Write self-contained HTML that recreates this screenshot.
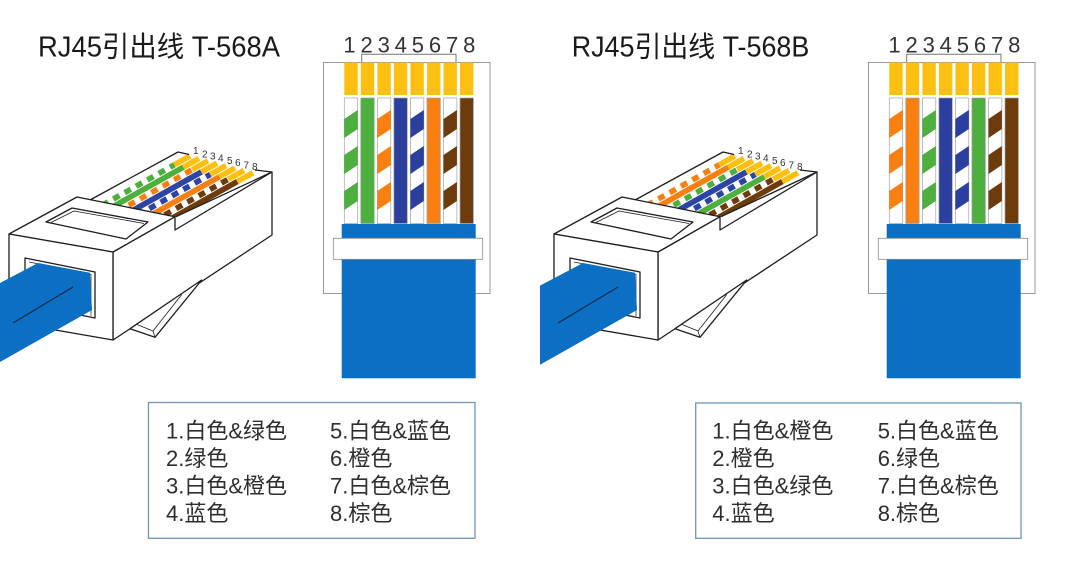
<!DOCTYPE html>
<html><head><meta charset="utf-8"><style>
html,body{margin:0;padding:0;background:#fff;overflow:hidden;}
svg{display:block;}
text{font-family:"Liberation Sans","Noto Sans CJK SC",sans-serif;}
</style></head><body>
<svg width="1080" height="572" viewBox="0 0 1080 572" xmlns="http://www.w3.org/2000/svg">
<defs>
<clipPath id="wc"><polygon points="90,200 178,152 190,153 262,168 272,172 176,216.7"/></clipPath>
<g id="st">
<polygon points="0,119 13.4,110 13.4,129 0,138"/>
<polygon points="0,155 13.4,146 13.4,165 0,174"/>
<polygon points="0,191 13.4,182 13.4,201 0,210"/>
</g>
<g id="under"><polygon points="9,234 77,197 90,200 178,152 190,155 255,170 272,172 272,235 113,340 9,322" fill="#fff"/></g>
<g id="over" stroke="#1e1e1e" stroke-width="1.3" stroke-linejoin="round">
<polyline points="90,200 178,152 189,154.5" fill="none"/>
<polyline points="255,170 272,172" fill="none"/>
<line x1="176" y1="216.7" x2="272" y2="172"/>
<polygon points="113,252 175,216.7 175,230 272,172 272,235 113,340" fill="#fff"/>
<polygon points="201.7,280 155,337.3 130,328.7" fill="#fff"/>
<polyline points="181.7,294.6 153,331 137,324.5" fill="none" stroke-width="0.8"/>
<line x1="153" y1="331" x2="155" y2="337.3" stroke-width="0.8"/>
<polygon points="9,234 77,197 175,216.7 113,252" fill="#fff"/>
<polygon points="46,222 72,208 148,222 126,239" fill="#fff"/>
<polyline points="51,222.5 74,211 144,223.5" fill="none" stroke-width="0.8"/>
<polygon points="9,234 113,252 113,340 9,322" fill="#fff"/>
<polygon points="25,258 95,272 95,318 25,304" fill="#fff"/>
<polyline points="29,262 91,274.5 91,316" fill="none" stroke-width="0.7"/>
<polygon points="-5,285.6 38,263 90,272.7 92,310 -5,364.8" fill="#0b6fc3" stroke="none"/>
<line x1="13" y1="323" x2="73" y2="287" stroke="#15283f" stroke-width="1.2"/>
</g>
<g id="nums3d" font-size="10" fill="#333">
<text x="193" y="154">1</text><text x="202" y="157.5">2</text><text x="210" y="159.5">3</text><text x="218" y="161.5">4</text><text x="227" y="164">5</text><text x="235" y="166">6</text><text x="243.5" y="168.5">7</text><text x="252" y="170">8</text>
</g>
<g id="frame">
<rect x="323.5" y="62.5" width="166.5" height="231" fill="#fff" stroke="#9a9a9a" stroke-width="1"/>
<g fill="#fdc010">
<rect x="344.3" y="62.5" width="13.4" height="32.5"/><rect x="360.8" y="62.5" width="13.4" height="32.5"/><rect x="377.4" y="62.5" width="13.4" height="32.5"/><rect x="393.9" y="62.5" width="13.4" height="32.5"/><rect x="410.4" y="62.5" width="13.4" height="32.5"/><rect x="426.95" y="62.5" width="13.4" height="32.5"/><rect x="443.5" y="62.5" width="13.4" height="32.5"/><rect x="460" y="62.5" width="13.4" height="32.5"/>
</g>
<polyline points="361.7,62 361.7,54.3 456,54.3 456,62" fill="none" stroke="#777" stroke-width="1"/>
<g font-size="22" fill="#333" text-anchor="middle">
<text x="349.5" y="52.7">1</text><text x="366.6" y="52.7">2</text><text x="383.7" y="52.7">3</text><text x="400.8" y="52.7">4</text><text x="417.9" y="52.7">5</text><text x="435" y="52.7">6</text><text x="452.1" y="52.7">7</text><text x="469.2" y="52.7">8</text>
</g>
</g>
<g id="jacket">
<rect x="341.7" y="224" width="134" height="154.3" fill="#0b6fc3"/>
<rect x="333.3" y="238.3" width="149.4" height="21" fill="#fff" stroke="#8a8a8a" stroke-width="0.8"/>
</g>
</defs>

<!-- Titles -->
<text x="38" y="56.5" font-size="28.5" fill="#1a1a1a" textLength="242" lengthAdjust="spacingAndGlyphs">RJ45引出线 T-568A</text>
<text x="571.7" y="56.5" font-size="28.5" fill="#1a1a1a" textLength="237.6" lengthAdjust="spacingAndGlyphs">RJ45引出线 T-568B</text>

<!-- ===== Left 3D (T-568A) ===== -->
<g>
<use href="#under"/>
<g clip-path="url(#wc)" stroke-width="5.6" fill="none">
<line x1="68" y1="224.5" x2="174.3" y2="164.8" stroke="#fff"/>
<line x1="68" y1="224.5" x2="174.3" y2="164.8" stroke="#4caf3e" stroke-dasharray="7 6"/>
<line x1="77" y1="226.9" x2="183.3" y2="167.2" stroke="#4caf3e"/>
<line x1="86" y1="229.3" x2="192.3" y2="169.6" stroke="#fff"/>
<line x1="86" y1="229.3" x2="192.3" y2="169.6" stroke="#f98010" stroke-dasharray="7 6" stroke-dashoffset="3"/>
<line x1="95" y1="231.7" x2="201.3" y2="172" stroke="#2b44a6"/>
<line x1="104" y1="234.1" x2="210.3" y2="174.4" stroke="#fff"/>
<line x1="104" y1="234.1" x2="210.3" y2="174.4" stroke="#2b44a6" stroke-dasharray="7 6"/>
<line x1="113" y1="236.5" x2="219.3" y2="176.8" stroke="#f98010"/>
<line x1="122" y1="238.9" x2="228.3" y2="179.2" stroke="#fff"/>
<line x1="122" y1="238.9" x2="228.3" y2="179.2" stroke="#6e3c0c" stroke-dasharray="7 6" stroke-dashoffset="3"/>
<line x1="131" y1="241.3" x2="237.3" y2="181.6" stroke="#6e3c0c"/>
<g stroke="#fdc010">
<line x1="174.3" y1="164.8" x2="190" y2="156"/><line x1="183.3" y1="167.2" x2="199" y2="158.4"/><line x1="192.3" y1="169.6" x2="208" y2="160.8"/><line x1="201.3" y1="172" x2="217" y2="163.2"/><line x1="210.3" y1="174.4" x2="226" y2="165.6"/><line x1="219.3" y1="176.8" x2="235" y2="168"/><line x1="228.3" y1="179.2" x2="244" y2="170.4"/><line x1="237.3" y1="181.6" x2="253" y2="172.8"/>
</g>
</g>
<use href="#over"/>
<use href="#nums3d"/>
</g>

<!-- ===== Right 3D (T-568B) ===== -->
<g transform="translate(545,0)">
<use href="#under"/>
<g clip-path="url(#wc)" stroke-width="5.6" fill="none">
<line x1="68" y1="224.5" x2="174.3" y2="164.8" stroke="#fff"/>
<line x1="68" y1="224.5" x2="174.3" y2="164.8" stroke="#f98010" stroke-dasharray="7 6"/>
<line x1="77" y1="226.9" x2="183.3" y2="167.2" stroke="#f98010"/>
<line x1="86" y1="229.3" x2="192.3" y2="169.6" stroke="#fff"/>
<line x1="86" y1="229.3" x2="192.3" y2="169.6" stroke="#4caf3e" stroke-dasharray="7 6" stroke-dashoffset="3"/>
<line x1="95" y1="231.7" x2="201.3" y2="172" stroke="#2b44a6"/>
<line x1="104" y1="234.1" x2="210.3" y2="174.4" stroke="#fff"/>
<line x1="104" y1="234.1" x2="210.3" y2="174.4" stroke="#2b44a6" stroke-dasharray="7 6"/>
<line x1="113" y1="236.5" x2="219.3" y2="176.8" stroke="#4caf3e"/>
<line x1="122" y1="238.9" x2="228.3" y2="179.2" stroke="#fff"/>
<line x1="122" y1="238.9" x2="228.3" y2="179.2" stroke="#6e3c0c" stroke-dasharray="7 6" stroke-dashoffset="3"/>
<line x1="131" y1="241.3" x2="237.3" y2="181.6" stroke="#6e3c0c"/>
<g stroke="#fdc010">
<line x1="174.3" y1="164.8" x2="190" y2="156"/><line x1="183.3" y1="167.2" x2="199" y2="158.4"/><line x1="192.3" y1="169.6" x2="208" y2="160.8"/><line x1="201.3" y1="172" x2="217" y2="163.2"/><line x1="210.3" y1="174.4" x2="226" y2="165.6"/><line x1="219.3" y1="176.8" x2="235" y2="168"/><line x1="228.3" y1="179.2" x2="244" y2="170.4"/><line x1="237.3" y1="181.6" x2="253" y2="172.8"/>
</g>
</g>
<use href="#over"/>
<use href="#nums3d"/>
</g>

<!-- ===== Left front view (T-568A) ===== -->
<g>
<use href="#frame"/>
<g stroke="#a0a0a0" stroke-width="0.7">
<rect x="344.3" y="98" width="13.4" height="125.5" fill="#fff"/>
<rect x="360.8" y="98" width="13.4" height="125.5" fill="#4caf3e"/>
<rect x="377.4" y="98" width="13.4" height="125.5" fill="#fff"/>
<rect x="393.9" y="98" width="13.4" height="125.5" fill="#2b3f9e"/>
<rect x="410.4" y="98" width="13.4" height="125.5" fill="#fff"/>
<rect x="426.95" y="98" width="13.4" height="125.5" fill="#f98010"/>
<rect x="443.5" y="98" width="13.4" height="125.5" fill="#fff"/>
<rect x="460" y="98" width="13.4" height="125.5" fill="#6e3c0c"/>
</g>
<use href="#st" x="344.3" fill="#4caf3e"/>
<use href="#st" x="377.4" fill="#f98010"/>
<use href="#st" x="410.4" fill="#2b3f9e"/>
<use href="#st" x="443.5" fill="#6e3c0c"/>
<use href="#jacket"/>
</g>

<!-- ===== Right front view (T-568B) ===== -->
<g transform="translate(545,0)">
<use href="#frame"/>
<g stroke="#a0a0a0" stroke-width="0.7">
<rect x="344.3" y="98" width="13.4" height="125.5" fill="#fff"/>
<rect x="360.8" y="98" width="13.4" height="125.5" fill="#f98010"/>
<rect x="377.4" y="98" width="13.4" height="125.5" fill="#fff"/>
<rect x="393.9" y="98" width="13.4" height="125.5" fill="#2b3f9e"/>
<rect x="410.4" y="98" width="13.4" height="125.5" fill="#fff"/>
<rect x="426.95" y="98" width="13.4" height="125.5" fill="#4caf3e"/>
<rect x="443.5" y="98" width="13.4" height="125.5" fill="#fff"/>
<rect x="460" y="98" width="13.4" height="125.5" fill="#6e3c0c"/>
</g>
<use href="#st" x="344.3" fill="#f98010"/>
<use href="#st" x="377.4" fill="#4caf3e"/>
<use href="#st" x="410.4" fill="#2b3f9e"/>
<use href="#st" x="443.5" fill="#6e3c0c"/>
<use href="#jacket"/>
</g>

<!-- ===== Legends ===== -->
<rect x="148.5" y="402.5" width="326.5" height="135.8" fill="#fff" stroke="#6f95b8" stroke-width="1.3"/>
<g font-size="22" fill="#2e2e2e">
<text x="166" y="438.5">1.白色&amp;绿色</text>
<text x="166" y="466">2.绿色</text>
<text x="166" y="493.5">3.白色&amp;橙色</text>
<text x="166" y="521">4.蓝色</text>
<text x="330" y="438.5">5.白色&amp;蓝色</text>
<text x="330" y="466">6.橙色</text>
<text x="330" y="493.5">7.白色&amp;棕色</text>
<text x="330" y="521">8.棕色</text>
</g>
<rect x="695.7" y="403" width="325.3" height="135.3" fill="#fff" stroke="#6f95b8" stroke-width="1.3"/>
<g font-size="22" fill="#2e2e2e">
<text x="712.3" y="438.5">1.白色&amp;橙色</text>
<text x="712.3" y="466">2.橙色</text>
<text x="712.3" y="493.5">3.白色&amp;绿色</text>
<text x="712.3" y="521">4.蓝色</text>
<text x="877.7" y="438.5">5.白色&amp;蓝色</text>
<text x="877.7" y="466">6.绿色</text>
<text x="877.7" y="493.5">7.白色&amp;棕色</text>
<text x="877.7" y="521">8.棕色</text>
</g>
</svg>
</body></html>
